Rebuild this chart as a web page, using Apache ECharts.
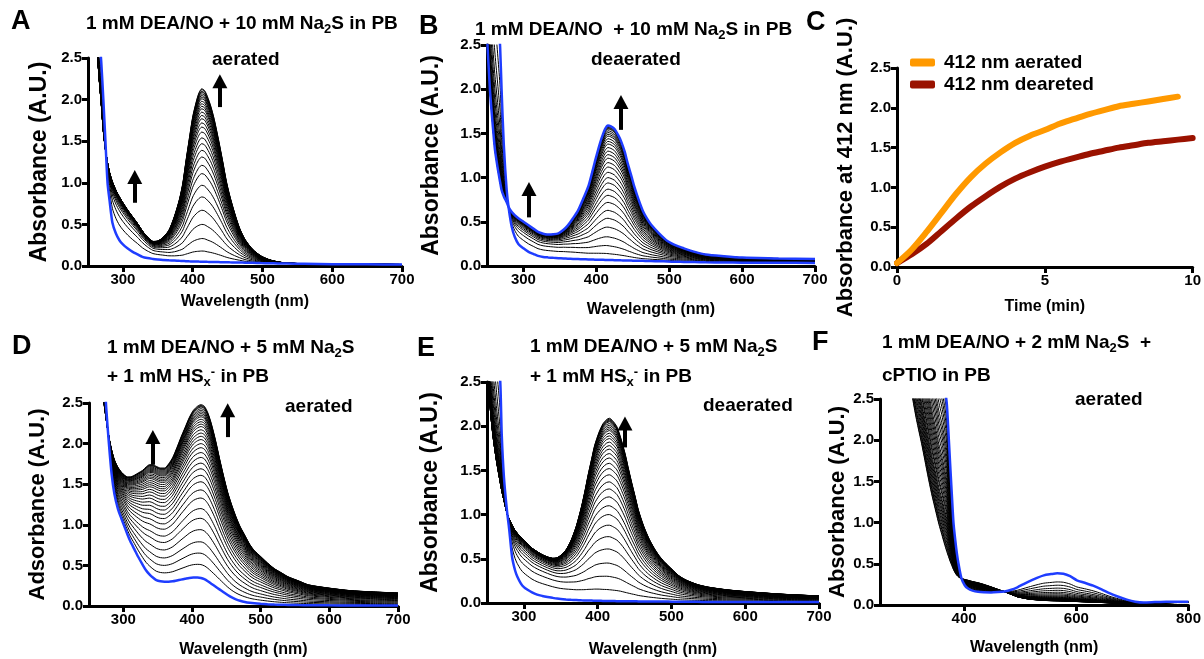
<!DOCTYPE html>
<html><head><meta charset="utf-8">
<script src="https://cdn.jsdelivr.net/npm/echarts@6/dist/echarts.min.js"></script>
<style>html,body{margin:0;padding:0;background:#fff}#c{width:1204px;height:659px}</style>
</head><body><div id="c"></div>
<script>
// ---------------- Panel A (aerated, 10 mM Na2S) ----------------
const wlA=[250,255,260,263,266,269,272,275,278,281,285,290,295,300,307,314,321,328,335,343,350,357,366,374,381,386,390,395,400,405,409,413,417,421,426,431,437,443,448,453,460,467,475,486,498,510,522,535,560,600,650,700];
const initA=[5.0,4.2,3.5,3.1,2.8,2.45,2.0,1.5,1.0,0.78,0.52,0.39,0.31,0.26,0.21,0.17,0.14,0.11,0.095,0.085,0.078,0.072,0.068,0.065,0.062,0.06,0.058,0.056,0.055,0.054,0.053,0.052,0.051,0.05,0.049,0.048,0.047,0.046,0.045,0.044,0.043,0.042,0.04,0.038,0.035,0.033,0.031,0.03,0.027,0.022,0.02,0.018];
const finalA=[4.5,3.6,2.95,2.6,2.25,1.95,1.62,1.40,1.24,1.12,1.01,0.91,0.83,0.76,0.67,0.59,0.51,0.42,0.35,0.295,0.30,0.34,0.43,0.60,0.80,1.0,1.24,1.52,1.79,1.97,2.08,2.13,2.11,2.04,1.92,1.76,1.52,1.26,1.03,0.85,0.64,0.46,0.32,0.20,0.12,0.075,0.05,0.035,0.028,0.022,0.02,0.018];
const bandA=[0,0,0,0,0,0,0,0,0,0,0,0,0,0,0,0,0,0,0.01,0.03,0.06,0.12,0.25,0.45,0.67,0.89,1.14,1.43,1.71,1.90,2.02,2.07,2.05,1.99,1.87,1.71,1.47,1.21,0.98,0.80,0.59,0.41,0.28,0.16,0.085,0.042,0.019,0.005,0,0,0,0];
const peakIdxA=31; // 413 nm
const peaksA=[0.18,0.33,0.50,0.67,0.83,0.97,1.11,1.21,1.31,1.39,1.47,1.54,1.61,1.67,1.72,1.77,1.81,1.85,1.89,1.92,1.95,1.98,2.01,2.03,2.05,2.07,2.09,2.10,2.12,2.13];
const uvA=[0.35,0.55,0.68,0.76,0.81,0.85,0.88,0.9,0.92,0.93,0.94,0.95,0.96,0.965,0.97,0.975,0.98,0.98,0.985,0.985,0.99,0.99,0.99,0.995,0.995,1,1,1,1,1];
const arrowsA=[[317,0.76,1.07],[439,1.91,2.22]];

// ---------------- Panel B (deaerated, 10 mM Na2S) ----------------
const wlB=[250,254,258,261,265,268,270,273,277,280,284,288,293,300,307,314,320,327,334,341,348,355,361,368,375,382,389,394,398,403,407,412,416,420,425,430,434,439,443,448,452,458,464,470,475,486,498,510,520,535,550,575,600,650,700];
const initB=[5.0,4.4,3.8,3.4,2.9,2.48,2.0,1.38,0.86,0.64,0.44,0.33,0.25,0.2,0.16,0.135,0.115,0.103,0.097,0.092,0.088,0.085,0.083,0.08,0.078,0.076,0.074,0.073,0.072,0.071,0.070,0.069,0.068,0.067,0.066,0.065,0.064,0.063,0.062,0.061,0.06,0.059,0.058,0.057,0.056,0.054,0.051,0.048,0.046,0.044,0.042,0.04,0.038,0.036,0.035];
const finalB=[2.6,2.0,1.58,1.31,1.09,0.95,0.86,0.79,0.72,0.66,0.61,0.575,0.54,0.50,0.46,0.42,0.385,0.365,0.355,0.358,0.37,0.41,0.46,0.54,0.63,0.76,0.90,1.05,1.18,1.33,1.44,1.55,1.59,1.58,1.55,1.48,1.41,1.29,1.16,1.02,0.90,0.75,0.62,0.53,0.47,0.37,0.28,0.23,0.20,0.16,0.13,0.11,0.095,0.085,0.078];
const bandB=[0,0,0,0,0,0,0,0,0,0,0,0,0,0,0,0,0,0,0,0.01,0.03,0.07,0.13,0.22,0.33,0.48,0.64,0.80,0.94,1.10,1.22,1.34,1.39,1.39,1.37,1.31,1.25,1.14,1.02,0.89,0.78,0.64,0.52,0.43,0.375,0.28,0.20,0.155,0.125,0.09,0.065,0.05,0.04,0.035,0.03];
const peakIdxB=32; // 416 nm
const peaksB=[0.14,0.23,0.33,0.44,0.54,0.63,0.72,0.80,0.87,0.94,1.00,1.06,1.12,1.17,1.22,1.26,1.30,1.34,1.38,1.41,1.44,1.47,1.49,1.51,1.53,1.55,1.56,1.57,1.58];
const uvB=[0.3,0.48,0.6,0.68,0.74,0.79,0.83,0.86,0.88,0.9,0.92,0.93,0.94,0.95,0.96,0.965,0.97,0.975,0.98,0.98,0.985,0.99,0.99,0.99,0.995,0.995,1,1,1];
const arrowsB=[[307.6,0.55,0.87],[433.8,1.54,1.855]];

// ---------------- Panel C (412 nm kinetics) ----------------
const timeAer=[0,0.5,1,1.5,2,2.5,3,3.5,4,4.5,5,5.5,6,6.5,7,7.5,8,8.5,9,9.5];
const absAer=[0.05,0.22,0.44,0.68,0.92,1.13,1.30,1.44,1.56,1.65,1.72,1.80,1.86,1.92,1.97,2.02,2.05,2.08,2.11,2.14];
const timeDea=[0,0.5,1,1.5,2,2.5,3,3.5,4,4.5,5,5.5,6,6.5,7,7.5,8,8.5,9,9.5,10];
const absDea=[0.05,0.16,0.29,0.45,0.61,0.76,0.89,1.01,1.11,1.19,1.26,1.32,1.37,1.42,1.46,1.50,1.53,1.56,1.58,1.60,1.62];

// ---------------- Panel D (aerated, 5 mM Na2S + 1 mM HSx-) ----------------
const wlD=[265,270,275,279,283,287,292,297,302,306,310,316,322,328,333,338,343,348,354,360,366,372,378,384,390,396,402,408,413,418,423,428,434,440,446,452,458,464,470,477,484,491,500,510,520,530,540,555,570,600,630,660,700];
const initD=[4.0,3.2,2.45,2.0,1.62,1.38,1.2,1.08,0.97,0.88,0.80,0.70,0.60,0.51,0.44,0.39,0.35,0.32,0.305,0.30,0.30,0.305,0.315,0.325,0.335,0.345,0.35,0.35,0.345,0.33,0.305,0.275,0.24,0.205,0.17,0.135,0.105,0.082,0.065,0.05,0.04,0.033,0.027,0.022,0.018,0.015,0.013,0.011,0.01,0.008,0.007,0.006,0.005];
const finalD=[3.1,2.62,2.3,2.08,1.92,1.80,1.71,1.65,1.61,1.59,1.59,1.61,1.64,1.67,1.71,1.74,1.74,1.72,1.70,1.70,1.75,1.83,1.95,2.08,2.2,2.32,2.41,2.46,2.48,2.46,2.38,2.25,2.05,1.82,1.60,1.40,1.24,1.10,0.98,0.87,0.76,0.68,0.61,0.53,0.46,0.41,0.36,0.31,0.26,0.22,0.19,0.175,0.16];
const peakIdxD=28; // 413 nm
const peaksD=[0.51,0.65,0.79,0.94,1.08,1.20,1.33,1.43,1.53,1.61,1.69,1.76,1.83,1.89,1.95,2.00,2.05,2.09,2.13,2.17,2.21,2.24,2.27,2.30,2.33,2.35,2.37,2.39,2.41,2.43,2.45,2.46,2.47,2.48];
const arrowsD=[[343,1.74,2.08],[452,2.08,2.41]];

// ---------------- Panel E (deaerated, 5 mM Na2S + 1 mM HSx-) ----------------
const wlE=[250,253,256,259,263,268,270,273,277,280,284,288,291,296,300,305,311,318,325,332,339,345,350,357,364,371,378,383,387,392,396,402,407,412,416,420,426,431,437,441,446,451,455,462,469,476,483,490,501,510,520,535,550,575,600,650,700];
const initE=[5.0,4.5,4.0,3.6,3.1,2.5,1.9,1.42,1.05,0.84,0.52,0.37,0.30,0.22,0.18,0.15,0.12,0.095,0.08,0.068,0.058,0.05,0.045,0.04,0.036,0.033,0.03,0.029,0.028,0.027,0.026,0.025,0.024,0.023,0.022,0.022,0.021,0.021,0.02,0.02,0.019,0.019,0.018,0.018,0.017,0.017,0.016,0.016,0.015,0.014,0.014,0.013,0.012,0.012,0.011,0.01,0.01];
const finalE=[2.75,2.35,2.05,1.83,1.6,1.36,1.27,1.16,1.02,0.95,0.88,0.82,0.79,0.74,0.71,0.67,0.62,0.58,0.545,0.52,0.505,0.51,0.54,0.6,0.71,0.87,1.09,1.28,1.45,1.64,1.79,1.94,2.03,2.08,2.095,2.07,2.0,1.88,1.70,1.55,1.37,1.20,1.06,0.88,0.74,0.63,0.54,0.47,0.38,0.31,0.26,0.21,0.18,0.15,0.13,0.10,0.08];
const bandE=[0,0,0,0,0,0,0,0,0,0,0,0,0,0,0,0,0,0,0,0.01,0.03,0.06,0.11,0.19,0.32,0.51,0.75,0.96,1.14,1.35,1.51,1.68,1.79,1.85,1.875,1.86,1.80,1.69,1.53,1.39,1.22,1.06,0.93,0.76,0.63,0.53,0.45,0.39,0.31,0.25,0.205,0.16,0.135,0.11,0.09,0.07,0.05];
const peakIdxE=34; // 416 nm
const peaksE=[0.15,0.30,0.45,0.61,0.75,0.88,1.0,1.1,1.2,1.29,1.37,1.45,1.52,1.58,1.64,1.69,1.74,1.78,1.82,1.86,1.89,1.92,1.95,1.97,1.99,2.01,2.03,2.05,2.06,2.07,2.08,2.09];
const uvE=[0.3,0.48,0.6,0.68,0.74,0.79,0.83,0.86,0.88,0.9,0.92,0.93,0.94,0.95,0.96,0.965,0.97,0.975,0.98,0.98,0.985,0.99,0.99,0.99,0.995,0.995,1,1,1,1,1,1];
const arrowsE=[[437,1.76,2.03]];

// ---------------- Panel F (aerated, 2 mM Na2S + cPTIO) ----------------
const wlF=[290,300,307,315,325,335,342,350,355,360,365,369,372,375,378,381,384,387,390,395,401,407,415,425,435,448,460,472,484,495,505,515,530,542,555,566,577,589,601,615,630,645,660,675,690,705,720,740,760,780,800];
const initF=[6.0,5.5,5.1,4.7,4.2,3.8,3.5,3.2,3.0,2.85,2.65,2.45,2.1,1.72,1.35,1.0,0.8,0.63,0.5,0.33,0.24,0.2,0.175,0.16,0.155,0.153,0.157,0.165,0.185,0.215,0.25,0.285,0.33,0.36,0.375,0.385,0.38,0.35,0.30,0.27,0.235,0.19,0.14,0.10,0.065,0.04,0.03,0.035,0.04,0.04,0.04];
const finalF=[3.3,2.85,2.55,2.25,1.93,1.58,1.35,1.12,0.98,0.86,0.74,0.65,0.59,0.53,0.48,0.43,0.39,0.36,0.34,0.32,0.31,0.30,0.285,0.27,0.25,0.22,0.19,0.16,0.13,0.10,0.085,0.072,0.062,0.056,0.052,0.05,0.048,0.045,0.042,0.038,0.034,0.03,0.026,0.022,0.02,0.02,0.02,0.025,0.028,0.03,0.03];
const bandF=[0,0,0,0,0,0,0,0,0,0,0,0,0,0,0,0,0,0,0,0,0,0,0,0,0,0,0,0,-0.055,-0.115,-0.165,-0.213,-0.268,-0.304,-0.323,-0.335,-0.332,-0.305,-0.258,-0.232,-0.201,-0.16,-0.114,-0.078,-0.045,-0.02,-0.01,-0.01,-0.012,-0.01,-0.01];
const peakIdxF=35; // 566 nm
const peaksF=[0.28,0.24,0.205,0.178,0.155,0.137,0.122,0.11,0.1,0.093,0.087,0.082,0.078,0.074,0.071,0.068,0.066,0.064,0.062,0.06,0.059,0.058,0.057,0.056,0.055,0.054,0.053,0.052,0.051,0.051,0.05,0.05];
const uvF=[0.06,0.12,0.17,0.22,0.27,0.32,0.36,0.4,0.44,0.48,0.52,0.55,0.58,0.61,0.64,0.67,0.7,0.73,0.75,0.78,0.8,0.82,0.84,0.86,0.88,0.9,0.92,0.94,0.96,0.97,0.99,1.0];

// ---------------- tick values ----------------
const ticksWl=[300,400,500,600,700];
const ticksF=[400,600,800];

// =========================================================
const FONT='"Liberation Sans", Arial, Helvetica, sans-serif';
const BLUE='#1f3dff', ORANGE='#ff9900', DARKRED='#9a1200';

function buildFamily(wl, init, fin, band, pk, peaks, uvw){
  const bd = band || fin.map((v,k)=>v-init[k]);
  const rest = wl.map((_,k)=>fin[k]-init[k]-bd[k]);
  return peaks.map((p,i)=>{
    const b = uvw ? uvw[i] : null;
    const a = (b===null) ? (p-init[pk])/(fin[pk]-init[pk]) : (p-init[pk]-b*rest[pk])/bd[pk];
    const bb = (b===null) ? a : b;
    return wl.map((w,k)=>[w, +(init[k]+a*bd[k]+bb*rest[k]).toFixed(4)]);
  });
}

function panelSeries(gi, wl, init, fin, band, pk, peaks, uvw, finBlue, arrows){
  const out = buildFamily(wl, init, fin, band, pk, peaks, uvw).map(d=>({
    type:'line', xAxisIndex:gi, yAxisIndex:gi, data:d, symbol:'none', showSymbol:false,
    smooth:0.25, silent:true, z:2, lineStyle:{color:'#000', width:1}
  }));
  if (finBlue) out.push({type:'line', xAxisIndex:gi, yAxisIndex:gi, data:wl.map((w,k)=>[w,fin[k]]),
    symbol:'none', smooth:0.25, silent:true, z:3, lineStyle:{color:BLUE, width:2.5}});
  const s = {type:'line', xAxisIndex:gi, yAxisIndex:gi, data:wl.map((w,k)=>[w,init[k]]),
    symbol:'none', smooth:0.25, silent:true, z:3, lineStyle:{color:BLUE, width:2.5}};
  if (arrows) s.markLine = {silent:true, animation:false, symbol:['none','triangle'], symbolSize:[15,14],
    label:{show:false}, lineStyle:{color:'#000', width:4, type:'solid'},
    emphasis:{disabled:true},
    data: arrows.map(a=>[{coord:[a[0],a[1]]},{coord:[a[0],a[2]]}])};
  out.push(s);
  return out;
}

function xAx(gi, min, max, ticks, name, nameGap, interval){
  const ax = {type:'value', gridIndex:gi, min, max, name, nameLocation:'middle', nameGap,
    nameTextStyle:{fontFamily:FONT, fontWeight:'bold', fontSize:16, color:'#000'},
    axisLine:{show:true, onZero:false, lineStyle:{color:'#000', width:3}},
    axisTick:{show:true, length:6, lineStyle:{color:'#000', width:3}},
    axisLabel:{color:'#000', fontFamily:FONT, fontWeight:'bold', fontSize:15, margin:6},
    splitLine:{show:false}};
  if (ticks){ ax.axisTick.customValues = ticks; ax.axisLabel.customValues = ticks; }
  if (interval) ax.interval = interval;
  return ax;
}
function yAx(gi, name, nameGap, size){
  return {type:'value', gridIndex:gi, min:0, max:2.5, interval:0.5, name, nameLocation:'middle', nameGap, nameRotate:90,
    nameTextStyle:{fontFamily:FONT, fontWeight:'bold', fontSize:size, color:'#000'},
    axisLine:{show:true, onZero:false, lineStyle:{color:'#000', width:3}},
    axisTick:{show:true, length:6, lineStyle:{color:'#000', width:3}},
    axisLabel:{formatter:v=>v.toFixed(1), color:'#000', fontFamily:FONT, fontWeight:'bold', fontSize:15, margin:6},
    splitLine:{show:false}};
}

const RICH = {
  m:{fontFamily:FONT, fontWeight:'bold', fontSize:19, lineHeight:24, fill:'#000'},
  sub:{fontFamily:FONT, fontWeight:'bold', fontSize:13, lineHeight:14, padding:[10,0,0,0], fill:'#000'},
  sup:{fontFamily:FONT, fontWeight:'bold', fontSize:13, lineHeight:14, padding:[0,0,9,0], fill:'#000'}
};
function rt(x, y, text){ return {type:'text', x, y, silent:true, style:{text, rich:RICH, align:'left', verticalAlign:'middle', fill:'#000', font:'bold 19px '+FONT}}; }
function tx(x, y, text, size){ return {type:'text', x, y, silent:true, style:{text, align:'left', verticalAlign:'middle', fill:'#000', font:'bold '+size+'px '+FONT}}; }

const series = [].concat(
  panelSeries(0, wlA, initA, finalA, bandA, peakIdxA, peaksA, uvA, false, arrowsA),
  panelSeries(1, wlB, initB, finalB, bandB, peakIdxB, peaksB, uvB, true, arrowsB),
  panelSeries(3, wlD, initD, finalD, null, peakIdxD, peaksD, null, false, arrowsD),
  panelSeries(4, wlE, initE, finalE, bandE, peakIdxE, peaksE, uvE, false, arrowsE),
  panelSeries(5, wlF, initF, finalF, bandF, peakIdxF, peaksF, uvF, false, null),
  [
    {type:'line', name:'412 nm deareted', xAxisIndex:2, yAxisIndex:2, data:timeDea.map((t,i)=>[t,absDea[i]]),
     symbol:'none', smooth:0.3, silent:true, z:3, color:DARKRED, lineStyle:{color:DARKRED, width:6, cap:'round'}},
    {type:'line', name:'412 nm aerated', xAxisIndex:2, yAxisIndex:2, data:timeAer.map((t,i)=>[t,absAer[i]]),
     symbol:'none', smooth:0.3, silent:true, z:4, color:ORANGE, lineStyle:{color:ORANGE, width:6, cap:'round'}}
  ]
);

const option = {
  animation:false,
  backgroundColor:'#fff',
  textStyle:{fontFamily:FONT},
  grid:[
    {left:88, top:58, width:314, height:208},
    {left:487, top:45, width:328, height:221},
    {left:897, top:68, width:297, height:199},
    {left:89, top:403, width:309, height:203},
    {left:487, top:382, width:332, height:223},
    {left:880, top:399, width:310, height:206}
  ],
  xAxis:[
    xAx(0, 250, 700, ticksWl, 'Wavelength (nm)', 28),
    xAx(1, 250, 700, ticksWl, 'Wavelength (nm)', 36),
    xAx(2, 0, 10, null, 'Time (min)', 32, 5),
    xAx(3, 250, 700, ticksWl, 'Wavelength (nm)', 36),
    xAx(4, 250, 700, ticksWl, 'Wavelength (nm)', 39),
    xAx(5, 250, 800, ticksF, 'Wavelength (nm)', 35)
  ],
  yAxis:[
    yAx(0, 'Absorbance (A.U.)', 37, 23),
    yAx(1, 'Absorbance (A.U.)', 44, 23),
    yAx(2, 'Absorbance at 412 nm (A.U.)', 40, 22),
    yAx(3, 'Adsorbance (A.U.)', 40, 22),
    yAx(4, 'Absorbance (A.U.)', 45, 23),
    yAx(5, 'Absorbance (A.U.)', 28, 22)
  ],
  legend:{data:['412 nm aerated','412 nm deareted'], left:905, top:48, orient:'vertical', icon:'roundRect',
    itemWidth:25, itemHeight:8, itemGap:3, selectedMode:false,
    textStyle:{fontFamily:FONT, fontWeight:'bold', fontSize:19, color:'#000', padding:[0,0,0,4]}},
  graphic:[
    tx(11, 22, 'A', 27), tx(419, 27, 'B', 27), tx(806, 23, 'C', 27),
    tx(12, 347, 'D', 27), tx(417, 349, 'E', 27), tx(812, 343, 'F', 27),
    rt(86, 24, '{m|1 mM DEA/NO + 10 mM Na}{sub|2}{m|S in PB}'),
    rt(475, 30, '{m|1 mM DEA/NO  + 10 mM Na}{sub|2}{m|S in PB}'),
    rt(107, 348, '{m|1 mM DEA/NO + 5 mM Na}{sub|2}{m|S}'),
    rt(107, 377, '{m|+ 1 mM HS}{sub|x}{sup|-}{m| in PB}'),
    rt(530, 347, '{m|1 mM DEA/NO + 5 mM Na}{sub|2}{m|S}'),
    rt(530, 377, '{m|+ 1 mM HS}{sub|x}{sup|-}{m| in PB}'),
    rt(882, 343, '{m|1 mM DEA/NO + 2 mM Na}{sub|2}{m|S  +}'),
    rt(882, 376, '{m|cPTIO in PB}'),
    tx(212, 60, 'aerated', 19), tx(591, 60, 'deaerated', 19),
    tx(285, 407, 'aerated', 19), tx(703, 406, 'deaerated', 19),
    tx(1075, 400, 'aerated', 19)
  ],
  series
};
const chart = echarts.init(document.getElementById('c'), null, {renderer:'canvas'});
chart.setOption(option);
</script></body></html>
